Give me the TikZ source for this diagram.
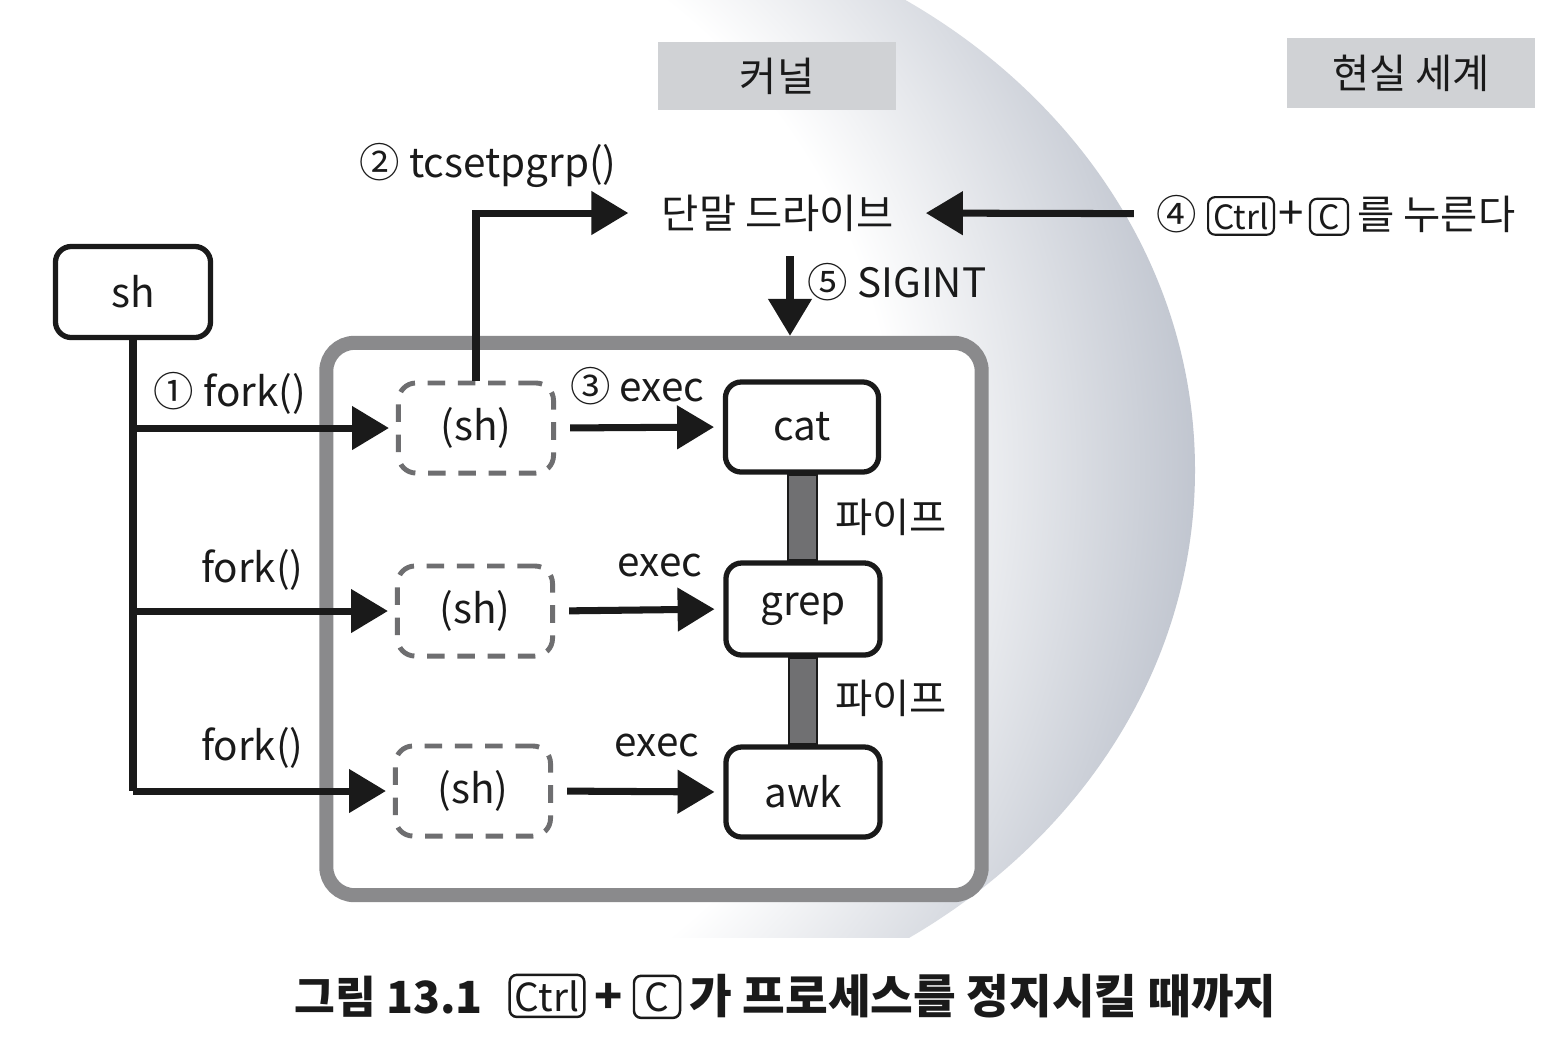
\documentclass[tikz,border=0pt]{standalone}
\usepackage{fontspec}
\setmainfont{Noto Sans CJK KR}
\usetikzlibrary{arrows.meta}
\definecolor{kgrey}{RGB}{192,197,207}
\definecolor{lblgrey}{RGB}{208,210,213}
\definecolor{grpgrey}{RGB}{138,138,140}
\definecolor{dashgrey}{RGB}{110,110,112}
\definecolor{pipegrey}{RGB}{112,112,114}
\definecolor{ink}{RGB}{26,26,26}
\pgfdeclareradialshading{kernshade}{\pgfpoint{0bp}{0bp}}{color(0bp)=(white); color(16.5bp)=(white); color(25bp)=(kgrey); color(50bp)=(kgrey)}
\begin{document}
\begin{tikzpicture}[x=0.01cm,y=-0.01cm,
  every node/.style={text=ink, font=\fontsize{11.5}{13}\selectfont},
  lbl/.style={fill=lblgrey, inner sep=0pt},
  pbox/.style={draw=ink, line width=1.5pt, rounded corners=4.5pt, fill=white, inner sep=0pt, minimum width=1.53cm, minimum height=0.9cm},
  shbox/.style={draw=dashgrey, line width=1.4pt, dash pattern=on 5pt off 3.6pt, rounded corners=5pt, inner sep=0pt, minimum width=1.55cm, minimum height=0.9cm},
  grpbox/.style={draw=grpgrey, line width=4pt, rounded corners=8pt, fill=white, inner sep=0pt},
  arr/.style={draw=ink, line width=2pt, -{Triangle[length=10.5pt,width=12pt]}},
  conn/.style={draw=ink, line width=2pt},
  pipe/.style={draw=ink, line width=0.8pt, fill=pipegrey},
  keycap/.style={draw=ink, line width=0.6pt, rounded corners=2pt, inner sep=1.5pt, minimum height=0.36cm, font=\fontsize{9.5}{10}\selectfont, anchor=base},
  capkey/.style={draw=ink, line width=0.7pt, rounded corners=2pt, inner sep=1.5pt, minimum height=0.42cm, font=\fontsize{11}{12}\selectfont, anchor=base},
  captxt/.style={font=\fontsize{13.2}{15}\bfseries\selectfont, anchor=base}
]
\useasboundingbox (0,0) rectangle (1551,1059);
\fill[white] (0,0) rectangle (1551,1059);
% kernel shaded region
\begin{scope}
  \clip (-10,-10) rectangle (1600,937);
  \clip (560,470) ellipse [x radius=635, y radius=560];
  \shade[shading=kernshade] (-600,-430) rectangle (1200,1370);
\end{scope}

% area labels
\node[lbl, minimum width=2.37cm, minimum height=0.68cm] (kernel) at (777,76) {커널};
\node[lbl, minimum width=2.47cm, minimum height=0.70cm] (real) at (1411,73) {현실 세계};

% process group box
\node[grpbox, minimum width=6.55cm, minimum height=5.52cm] (grp) at (654,619) {};

% nodes
\node[pbox, minimum width=1.55cm, minimum height=0.91cm] (sh) at (133,292) {sh};
\node[shbox] (sh1) at (476,428) {(sh)};
\node[shbox] (sh2) at (475,611) {(sh)};
\node[shbox] (sh3) at (473,791) {(sh)};
\node[pbox] (cat) at (802,427) {cat};
\node[pbox, minimum width=1.54cm, minimum height=0.92cm] (grep) at (803,609) {grep};
\node[pbox, minimum width=1.54cm] (awk) at (803,792) {awk};
\node (drv) at (778,213) {단말 드라이브};

% pipes
\path[pipe] ([xshift=-0.14cm]cat.south) rectangle ([xshift=0.14cm]grep.north);
\path[pipe] ([xshift=-0.14cm]grep.south) rectangle ([xshift=0.14cm]awk.north);
\node (p1) at (891,517) {파이프};
\node (p2) at (891,698) {파이프};

% fork tree
\draw[conn] (sh.south) -- (sh.south |- sh3.west);
\draw[arr, shorten >=2pt] (sh.south |- sh1.west) -- (sh1.west);
\draw[arr, shorten >=2pt] (sh.south |- sh2.west) -- (sh2.west);
\draw[arr, shorten >=2pt] (sh.south |- sh3.west) -- (sh3.west);
\node (f1) at (230,393) {① fork()};
\node[anchor=east] (f2) at (316,570) {fork()};
\node[anchor=east] (f3) at (316,748) {fork()};

% exec arrows
\draw[arr, shorten <=4pt, shorten >=2.5pt] (sh1.east) -- (cat.west);
\draw[arr, shorten <=4pt, shorten >=2.5pt] (sh2.east) -- (grep.west);
\draw[arr, shorten <=4pt, shorten >=2.5pt] (sh3.east) -- (awk.west);
\node (e1) at (637,386) {③ exec};
\node (e2) at (660,565) {exec};
\node (e3) at (657,745) {exec};

% tcsetpgrp
\draw[arr, line join=miter, shorten >=6pt] (sh1.north) |- (drv.west);
\node (tc) at (488,165) {② tcsetpgrp()};

% Ctrl+C press
\node[anchor=base] (n4) at (1177,229) {④};
\node[keycap, minimum width=0.58cm] (k1) at (1241,229) {Ctrl};
\node[anchor=base, font=\fontsize{13}{14}\selectfont] (plus1) at (1291,229) {+};
\node[keycap, minimum width=0.38cm] (k2) at (1329,229) {C};
\node[anchor=base west] (press) at (1345,229) {를 누른다};
\draw[arr, shorten <=3pt, shorten >=5.5pt] (n4.west) -- (drv.east);

% SIGINT
\coordinate (sigtop) at (790,256);
\draw[arr] (sigtop) -- (sigtop |- grp.north);
\node (sig) at (897,282) {⑤ SIGINT};

% caption
\node[captxt, anchor=base west, font=\fontsize{12.6}{15}\bfseries\selectfont] (cap1) at (282,1013) {그림 13.1};
\node[capkey, minimum width=0.74cm] (ck1) at (547,1011) {Ctrl};
\node[captxt, anchor=base] (cplus) at (609,1013) {+};
\node[capkey, minimum width=0.46cm] (ck2) at (657,1011) {C};
\node[captxt, anchor=base west] (cap2) at (677,1013) {가 프로세스를 정지시킬 때까지};
\end{tikzpicture}
\end{document}
